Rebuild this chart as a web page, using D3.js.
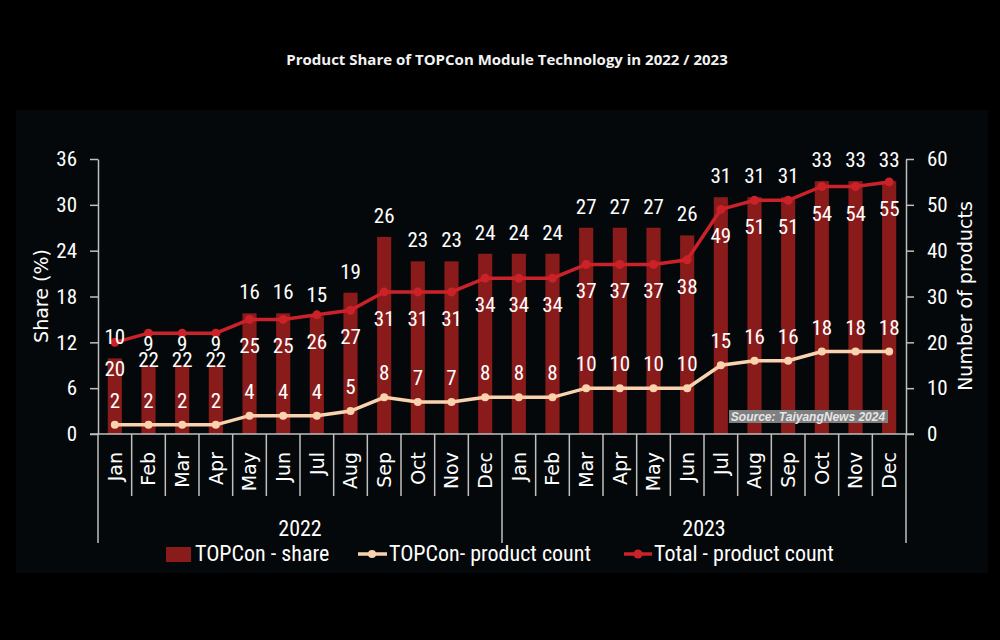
<!DOCTYPE html>
<html>
<head>
<meta charset="utf-8">
<script src="https://cdn.jsdelivr.net/npm/d3@7"></script>
<style>
  html, body { margin: 0; padding: 0; background: #000; }
  svg { display: block; }
</style>
</head>
<body>
<svg id="chart" width="1000" height="640"></svg>
<script>
// chart values
const years = ["2022", "2023"];
const months = ["Jan", "Feb", "Mar", "Apr", "May", "Jun", "Jul", "Aug", "Sep", "Oct", "Nov", "Dec"];
const topconShare = [9.9, 9.0, 9.0, 9.0, 15.8, 15.8, 15.4, 18.5, 25.8, 22.6, 22.6, 23.6,
                     23.6, 23.6, 27.0, 27.0, 27.0, 26.0, 31.0, 31.0, 31.0, 33.1, 33.1, 33.1];
const topconCount = [2, 2, 2, 2, 4, 4, 4, 5, 8, 7, 7, 8,
                     8, 8, 10, 10, 10, 10, 15, 16, 16, 18, 18, 18];
const totalCount = [20, 22, 22, 22, 25, 25, 26, 27, 31, 31, 31, 34,
                    34, 34, 37, 37, 37, 38, 49, 51, 51, 54, 54, 55];
const shareTicks = [0, 6, 12, 18, 24, 30, 36];
const countTicks = [0, 10, 20, 30, 40, 50, 60];

const rows = [];
years.forEach((yr, yi) => months.forEach((m, mi) => {
  const i = yi * 12 + mi;
  rows.push({ key: yr + "-" + m, year: yr, month: m,
    share: topconShare[i], topcon: topconCount[i], total: totalCount[i] });
}));

const colors = { bar: "#8a1b1b", total: "#cb2229", topcon: "#fbd2ae", axis: "#bfbfbf", text: "#ffffff" };
const narrow = "'Liberation Sans Narrow', 'Roboto Condensed', 'Liberation Sans', sans-serif";
const wide = "'DejaVu Sans', Verdana, sans-serif";

const svg = d3.select("#chart");

svg.append("rect").attr("width", 1000).attr("height", 640).attr("fill", "#000");
svg.append("rect").attr("x", 16).attr("y", 110).attr("width", 972).attr("height", 463).attr("fill", "#05080a");

svg.append("text")
  .attr("x", 507).attr("y", 65)
  .attr("text-anchor", "middle")
  .style("font-family", "'Open Sans', 'DejaVu Sans', sans-serif")
  .style("font-weight", "bold")
  .style("font-size", "15px")
  .style("fill", "#f2f2f2")
  .text("Product Share of TOPCon Module Technology in 2022 / 2023");

const plotL = 98, plotR = 906, plotT = 159, plotB = 434;

const x = d3.scaleBand().domain(rows.map(d => d.key)).range([plotL, plotR]).padding(0);
const yL = d3.scaleLinear().domain([0, 36]).range([plotB, plotT]);
const yR = d3.scaleLinear().domain([0, 60]).range([plotB, plotT]);
const bw = x.bandwidth() * 0.42;

// bars
svg.append("g").selectAll("rect")
  .data(rows).enter().append("rect")
  .attr("x", d => x(d.key) + (x.bandwidth() - bw) / 2)
  .attr("y", d => yL(d.share))
  .attr("width", bw)
  .attr("height", d => plotB - yL(d.share))
  .attr("fill", colors.bar);

// y axes
function styleAxis(g) {
  g.select(".domain").attr("stroke", colors.axis).attr("stroke-width", 1.5);
  g.selectAll(".tick line").attr("stroke", colors.axis).attr("stroke-width", 1.5);
  g.selectAll(".tick text")
    .style("font-family", narrow).style("font-size", "21px").style("fill", colors.text);
}

svg.append("g")
  .attr("transform", `translate(${plotL},0)`)
  .call(d3.axisLeft(yL).tickValues(shareTicks).tickSize(8).tickPadding(13).tickSizeOuter(0))
  .call(styleAxis);

svg.append("g")
  .attr("transform", `translate(${plotR},0)`)
  .call(d3.axisRight(yR).tickValues(countTicks).tickSize(8).tickPadding(13).tickSizeOuter(0))
  .call(styleAxis);

// x axis with months
const xAxis = svg.append("g")
  .attr("transform", `translate(0,${plotB})`)
  .call(d3.axisBottom(x).tickSize(0).tickSizeOuter(0).tickFormat(k => k.split("-")[1]));
xAxis.select(".domain").remove();
xAxis.selectAll(".tick text")
  .attr("transform", "rotate(-90)")
  .attr("text-anchor", "end")
  .attr("x", -18).attr("y", 0).attr("dy", "0.36em")
  .style("font-family", wide).style("font-size", "19px").style("fill", colors.text);

svg.append("line")
  .attr("x1", plotL - 8).attr("x2", plotR + 8)
  .attr("y1", plotB).attr("y2", plotB)
  .attr("stroke", colors.axis).attr("stroke-width", 1.5);

// separators between months, long ones between years
const bounds = d3.range(rows.length + 1).map(i => plotL + i * x.step());
svg.append("g").selectAll("line")
  .data(bounds).enter().append("line")
  .attr("x1", d => d).attr("x2", d => d)
  .attr("y1", plotB)
  .attr("y2", (d, i) => (i % 12 === 0 ? 543 : 496))
  .attr("stroke", colors.axis).attr("stroke-width", 1.5);

years.forEach(yr => {
  const ks = rows.filter(d => d.year === yr).map(d => d.key);
  const mid = (x(ks[0]) + x(ks[ks.length - 1]) + x.bandwidth()) / 2;
  svg.append("text")
    .attr("x", mid).attr("y", 536)
    .attr("text-anchor", "middle")
    .style("font-family", narrow).style("font-size", "22px").style("fill", colors.text)
    .text(yr);
});

// axis titles
svg.append("text")
  .attr("transform", "translate(48,296) rotate(-90)")
  .attr("text-anchor", "middle")
  .style("font-family", wide).style("font-size", "19px").style("fill", colors.text)
  .text("Share (%)");

svg.append("text")
  .attr("transform", "translate(972,296) rotate(-90)")
  .attr("text-anchor", "middle")
  .style("font-family", wide).style("font-size", "19px").style("fill", colors.text)
  .text("Number of products");

// lines
const cx = d => x(d.key) + x.bandwidth() / 2;
const lineTotal = d3.line().x(cx).y(d => yR(d.total));
const lineTopcon = d3.line().x(cx).y(d => yR(d.topcon));

svg.append("path").datum(rows)
  .attr("d", lineTopcon).attr("fill", "none")
  .attr("stroke", colors.topcon).attr("stroke-width", 3.5);
svg.append("g").selectAll("circle")
  .data(rows).enter().append("circle")
  .attr("cx", cx).attr("cy", d => yR(d.topcon)).attr("r", 4)
  .attr("fill", colors.topcon);

svg.append("path").datum(rows)
  .attr("d", lineTotal).attr("fill", "none")
  .attr("stroke", colors.total).attr("stroke-width", 3.5);
svg.append("g").selectAll("circle")
  .data(rows).enter().append("circle")
  .attr("cx", cx).attr("cy", d => yR(d.total)).attr("r", 4.5)
  .attr("fill", colors.total);

// source box
svg.append("rect")
  .attr("x", 729).attr("y", 410).attr("width", 159).attr("height", 13)
  .attr("fill", "#7f7f7f");
svg.append("text")
  .attr("x", 808).attr("y", 421)
  .attr("text-anchor", "middle")
  .style("font-family", "'Liberation Sans', Arial, sans-serif")
  .style("font-weight", "bold").style("font-style", "italic")
  .style("font-size", "12px").style("fill", "#e6e6e6")
  .text("Source: TaiyangNews 2024");

// data labels
const fmt = d3.format(".0f");
function labels(acc, yPos) {
  svg.append("g").selectAll("text")
    .data(rows).enter().append("text")
    .attr("x", cx)
    .attr("y", yPos)
    .attr("text-anchor", "middle")
    .style("font-family", narrow).style("font-size", "21px").style("fill", colors.text)
    .text(d => fmt(acc(d)));
}
labels(d => d.share, d => yL(d.share) - 14);
labels(d => d.total, d => yR(d.total) + 34);
labels(d => d.topcon, d => yR(d.topcon) - 17);

// legend
const leg = svg.append("g");
const legText = (xp, t) => leg.append("text")
  .attr("x", xp).attr("y", 561)
  .style("font-family", narrow).style("font-size", "22px").style("fill", colors.text)
  .text(t);

leg.append("rect").attr("x", 166).attr("y", 547).attr("width", 25).attr("height", 15).attr("fill", colors.bar);
legText(195, "TOPCon - share");

leg.append("line").attr("x1", 358).attr("x2", 387).attr("y1", 554).attr("y2", 554)
  .attr("stroke", colors.topcon).attr("stroke-width", 3.5);
leg.append("circle").attr("cx", 372).attr("cy", 554).attr("r", 4).attr("fill", colors.topcon);
legText(389, "TOPCon- product count");

leg.append("line").attr("x1", 624).attr("x2", 652).attr("y1", 554).attr("y2", 554)
  .attr("stroke", colors.total).attr("stroke-width", 3.5);
leg.append("circle").attr("cx", 638).attr("cy", 554).attr("r", 4.5).attr("fill", colors.total);
legText(654, "Total - product count");
</script>
</body>
</html>
